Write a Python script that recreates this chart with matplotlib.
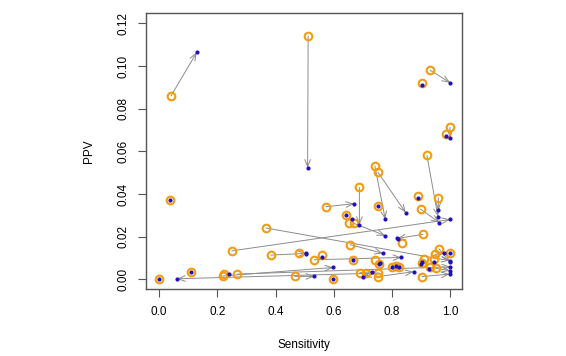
import matplotlib
matplotlib.use("Agg")
import matplotlib.pyplot as plt
import numpy as np

plt.rcParams['font.family'] = ['Liberation Sans', 'DejaVu Sans']

# sensitivity / PPV before (orange circles) and after (blue dots)
sens_old = [0.041, 0.512, 0.931, 0.902, 0.999, 0.984, 0.920, 0.741, 0.752, 0.688,
            0.039, 0.890, 0.959, 0.573, 0.751, 0.898, 0.642, 0.651, 0.669, 0.367,
            0.250, 0.906, 0.833, 0.656, 0.383, 0.480, 0.560, 0.533, 0.666, 0.741,
            0.755, 0.961, 0.949, 0.998, 0.909, 0.944, 0.903, 0.931, 0.950, 0.801,
            0.823, 0.815, 0.903, 0.466, 0.598, 0.000, 0.110, 0.219, 0.222, 0.269,
            0.712, 0.689, 0.752, 0.751]
ppv_old = [0.0861, 0.1141, 0.0981, 0.0919, 0.0713, 0.0681, 0.0581, 0.0533, 0.0502, 0.0431,
           0.0372, 0.0389, 0.0383, 0.0341, 0.0342, 0.0330, 0.0302, 0.0263, 0.0263, 0.0241,
           0.0134, 0.0211, 0.0173, 0.0163, 0.0114, 0.0122, 0.0114, 0.0092, 0.0092, 0.0092,
           0.0072, 0.0144, 0.0117, 0.0122, 0.0094, 0.0094, 0.0078, 0.0059, 0.0052, 0.0059,
           0.0059, 0.0063, 0.0013, 0.0014, 0.0002, 0.0003, 0.0033, 0.0016, 0.0025, 0.0025,
           0.0028, 0.0031, 0.0031, 0.0013]
sens_new = [0.129, 0.510, 1.000, 0.902, 1.000, 0.984, 0.958, 0.777, 0.847, 0.688,
            0.039, 0.890, 0.959, 0.670, 0.751, 0.963, 0.642, 0.664, 0.777, 0.998,
            1.000, 0.818, 0.821, 0.769, 0.506, 0.504, 0.559, 0.832, 0.666, 0.758,
            0.755, 0.998, 0.978, 0.998, 0.904, 0.946, 0.901, 0.926, 0.999, 0.801,
            0.823, 0.815, 0.998, 0.533, 0.598, 0.000, 0.110, 0.598, 0.241, 1.000,
            0.061, 0.733, 0.701, 0.874]
ppv_new = [0.1064, 0.0523, 0.0922, 0.0911, 0.0664, 0.0673, 0.0294, 0.0281, 0.0313, 0.0255,
           0.0372, 0.0384, 0.0325, 0.0355, 0.0342, 0.0266, 0.0302, 0.0281, 0.0205, 0.0088,
           0.0281, 0.0192, 0.0188, 0.0122, 0.0122, 0.0120, 0.0105, 0.0103, 0.0092, 0.0075,
           0.0070, 0.0083, 0.0122, 0.0122, 0.0083, 0.0083, 0.0072, 0.0048, 0.0041, 0.0059,
           0.0059, 0.0063, 0.0025, 0.0014, 0.0002, 0.0003, 0.0033, 0.0056, 0.0025, 0.0059,
           0.0003, 0.0036, 0.0013, 0.0036]

x_ticks = [0.0, 0.2, 0.4, 0.6, 0.8, 1.0]
y_ticks = [0.00, 0.02, 0.04, 0.06, 0.08, 0.10, 0.12]

fig = plt.figure(figsize=(5.66, 3.56), dpi=100)
ax = fig.add_axes([0.258, 0.187, 0.558, 0.777])
ax.set_xlim(-0.045, 1.04)
ax.set_ylim(-0.0047, 0.125)

# arrows from old to new, very short ones are left out
for x0, y0, x1, y1 in zip(sens_old, ppv_old, sens_new, ppv_new):
    p0 = ax.transData.transform((x0, y0))
    p1 = ax.transData.transform((x1, y1))
    if np.hypot(*(p1 - p0)) < 7:
        continue
    ax.annotate('', xy=(x1, y1), xytext=(x0, y0),
                arrowprops=dict(arrowstyle='->, head_length=0.5, head_width=0.2',
                                color='#8c8c8c', lw=0.7, shrinkA=0, shrinkB=0,
                                mutation_scale=10))

ax.plot(sens_old, ppv_old, 'o', mfc='none', mec='#F39C12', ms=5.5, mew=1.5, zorder=3)
ax.plot(sens_new, ppv_new, 'o', color='#2010C0', ms=3, mew=0, zorder=4)

ax.set_xticks(x_ticks)
ax.set_xticklabels(['%.1f' % v for v in x_ticks])
ax.set_yticks(y_ticks)
ax.set_yticklabels(['%.2f' % v for v in y_ticks], rotation=90, va='center')
ax.tick_params(labelsize=8.5, length=6, width=0.8, color='#555555', pad=6)
for s in ax.spines.values():
    s.set_color('#555555')
    s.set_linewidth(1.0)

ax.set_xlabel('Sensitivity', fontsize=8.5, labelpad=15)
ax.set_ylabel('PPV', fontsize=8.5, labelpad=16)

fig.savefig('out.png', dpi=100)
